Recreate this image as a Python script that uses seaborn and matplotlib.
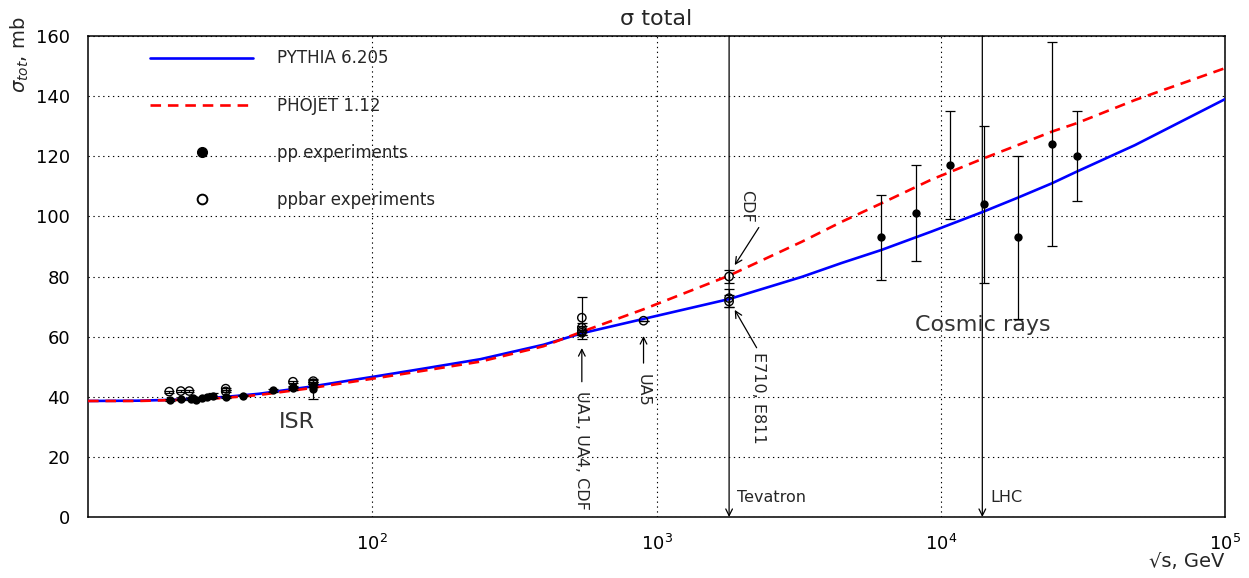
import matplotlib
matplotlib.use("Agg")
import matplotlib.pyplot as plt
import seaborn as sns
import pandas as pd
import numpy as np
from matplotlib.lines import Line2D
from matplotlib.ticker import LogLocator, MultipleLocator

# model curves (sqrt(s) in GeV, sigma_tot in mb)
energy = [10, 15, 20, 30, 40, 60, 100, 150, 240, 400, 545, 900, 1800, 3250,
          4480, 6170, 9300, 14150, 18640, 24600, 30100, 48200, 100000]
pythia = [38.6, 38.7, 39.0, 39.9, 41.0, 43.3, 46.6, 49.3, 52.5, 57.3, 61.1, 65.9,
          72.5, 79.9, 84.5, 88.8, 95.0, 101.6, 106.2, 111.0, 114.9, 123.7, 139.0]
phojet = [38.6, 38.6, 38.9, 39.6, 40.6, 42.8, 46.0, 48.6, 51.7, 56.8, 61.6, 69.1,
          80.3, 91.6, 98.2, 104.3, 112.3, 119.3, 123.7, 128.2, 131.0, 138.7, 149.3]

# pp experiments (ISR + cosmic rays)
pp_x = [19.4, 21.2, 23.0, 23.4, 24.0, 25.1, 26.3, 27.5, 30.6, 35.2, 44.9, 52.6, 52.6,
        62.1, 62.1, 6170, 8170, 10740, 14150, 18640, 24600, 30100]
pp_y = [38.9, 39.1, 39.2, 39.5, 39.0, 39.7, 39.8, 40.4, 39.8, 40.4, 42.1, 42.8, 43.2,
        43.7, 42.6, 93, 101, 117, 104, 93, 124, 120]
pp_err = [0.4, 0.3, 0.3, 0.4, 0.3, 0.3, 0.3, 0.8, 0.3, 0.3, 0.4, 0.4, 0.4,
          0.5, 3.4, 14, 16, 18, 26, 27, 34, 15]

# ppbar experiments
pbar_x = [19.3, 21.2, 22.7, 30.5, 30.5, 52.6, 62.0, 62.0,
          546, 546, 546, 546, 900, 1800, 1800, 1800]
pbar_y = [41.7, 41.9, 41.9, 42.7, 41.8, 45.0, 45.2, 44.5,
          66.3, 63.0, 61.9, 61.3, 65.3, 80.0, 72.8, 71.7]
pbar_err = [0.3, 0.3, 0.3, 0.3, 0.3, 0.3, 0.3, 0.3,
            7.0, 1.5, 1.5, 0.9, 0.0, 2.2, 3.1, 2.0]

machines = ["Tevatron", "LHC"]
machine_energy = [1800, 14000]

curves = pd.DataFrame({"energy": energy, "PYTHIA 6.205": pythia, "PHOJET 1.12": phojet})
pp = pd.DataFrame({"x": pp_x, "y": pp_y, "err": pp_err})
pbar = pd.DataFrame({"x": pbar_x, "y": pbar_y, "err": pbar_err})

sns.set_theme(style="white")
plt.rcParams['font.family'] = ['DejaVu Sans']
plt.rcParams['mathtext.fontset'] = 'dejavusans'

fig = plt.figure(figsize=(12.49, 5.78), dpi=100)
ax = fig.add_axes([0.0705, 0.1055, 0.9103, 0.8322])

sns.lineplot(data=curves, x="energy", y="PYTHIA 6.205", ax=ax, color="#0000ff", lw=1.9, zorder=3)
sns.lineplot(data=curves, x="energy", y="PHOJET 1.12", ax=ax, color="#ff0000", lw=1.9,
             dashes=(4, 2.6), zorder=3)

ax.errorbar(pp["x"], pp["y"], yerr=pp["err"], fmt="none", ecolor="black",
            elinewidth=0.9, capsize=3.5, capthick=0.9, zorder=4)
ax.errorbar(pbar["x"], pbar["y"], yerr=pbar["err"], fmt="none", ecolor="black",
            elinewidth=0.9, capsize=3.5, capthick=0.9, zorder=4)
sns.scatterplot(data=pp, x="x", y="y", ax=ax, color="black", s=36, edgecolor="black",
                linewidth=0, zorder=5)
sns.scatterplot(data=pbar, x="x", y="y", ax=ax, marker="o", facecolor="none",
                edgecolor="black", linewidth=1.0, s=36, zorder=5)

ax.set_xscale("log")
ax.set_xlim(10, 1e5)
ax.set_ylim(0, 160)
ax.xaxis.set_major_locator(LogLocator(base=10, subs=(1.0,), numticks=10))
ax.xaxis.set_minor_locator(LogLocator(base=10, subs=np.arange(2, 10), numticks=20))
ax.set_xticks([1e2, 1e3, 1e4, 1e5])
ax.yaxis.set_major_locator(MultipleLocator(20))
ax.yaxis.set_minor_locator(MultipleLocator(5))
ax.tick_params(which="both", direction="in", top=False, right=False, colors="black",
               labelsize=13, width=0.9)
ax.tick_params(axis="y", which="major", length=8, pad=13)
ax.tick_params(axis="y", which="minor", length=6)
ax.tick_params(axis="x", which="major", length=10, pad=12)
ax.tick_params(axis="x", which="minor", length=7)
ax.grid(True, which="major", color="black", linestyle=(0, (1.2, 3.2)), lw=0.8)
for sp in ax.spines.values():
    sp.set_color("black")
    sp.set_linewidth(1.1)

ax.set_title("σ total", fontsize=16, pad=8)
ax.set_ylabel(r"$\sigma_{tot}$, mb", fontsize=14, loc="top")
ax.yaxis.set_label_coords(-0.05, 1.04)
ax.set_xlabel("√s, GeV", fontsize=14, loc="right")
ax.xaxis.set_label_coords(0.999, -0.072)

# machine energies: vertical arrows down to the axis
for name, e in zip(machines, machine_energy):
    ax.annotate("", xy=(e, 0), xytext=(e, 160),
                arrowprops=dict(arrowstyle="->", lw=0.9, color="black",
                                shrinkA=0, shrinkB=0, mutation_scale=12), zorder=2)
    ax.text(e * 1.07, 4, name, fontsize=11.5, ha="left", va="bottom")

ax.text(54.5, 31.5, "ISR", fontsize=16, ha="center", va="center", color="#333333")
ax.text(14000, 64, "Cosmic rays", fontsize=16, ha="center", va="center", color="#333333")

arrow = dict(arrowstyle="->", lw=0.9, color="black", shrinkA=0, shrinkB=0, mutation_scale=12)
ax.annotate("", xy=(546, 56.2), xytext=(546, 45), arrowprops=arrow)
ax.text(546, 42, "UA1, UA4, CDF", rotation=270, fontsize=11.5, ha="center", va="top")
ax.annotate("", xy=(900, 60.2), xytext=(900, 51.2), arrowprops=arrow)
ax.text(900, 47.5, "UA5", rotation=270, fontsize=11.5, ha="center", va="top")
ax.annotate("", xy=(1884, 83.8), xytext=(2290, 96.3), arrowprops=arrow)
ax.text(2075, 98, "CDF", rotation=270, fontsize=11.5, ha="center", va="bottom")
ax.annotate("", xy=(1884, 68.9), xytext=(2250, 56.3), arrowprops=arrow)
ax.text(2290, 55, "E710, E811", rotation=270, fontsize=11.5, ha="center", va="top")

handles = [
    Line2D([], [], color="#0000ff", lw=1.9),
    Line2D([], [], color="#ff0000", lw=1.9, dashes=(4, 2.6)),
    Line2D([], [], color="black", marker="o", ls="none", markersize=7),
    Line2D([], [], color="black", marker="o", ls="none", markersize=7,
           markerfacecolor="none", markeredgewidth=1.4),
]
labels = ["PYTHIA 6.205", "PHOJET 1.12", "pp experiments", "ppbar experiments"]
ax.legend(handles, labels, loc="upper left", bbox_to_anchor=(0.0545, 0.972),
          frameon=False, fontsize=12, handlelength=6.2, handletextpad=1.4,
          labelspacing=1.75, borderpad=0, borderaxespad=0)

fig.savefig("out.png", dpi=100)
